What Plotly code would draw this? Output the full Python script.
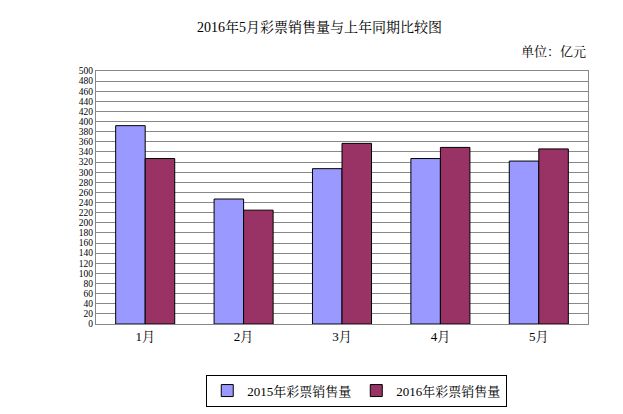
import plotly.graph_objects as go

categories = ["1月", "2月", "3月", "4月", "5月"]
sales_2015 = [392, 247, 307, 327, 322]
sales_2016 = [327, 225, 357, 349, 346]
y_ticks = list(range(0, 501, 20))

font = "Liberation Serif, Noto Serif CJK SC, Noto Sans CJK SC, serif"
fig = go.Figure()
fig.add_bar(x=categories, y=sales_2015, name="2015年彩票销售量",
            marker=dict(color="#9999FF", line=dict(color="black", width=1)))
fig.add_bar(x=categories, y=sales_2016, name="2016年彩票销售量",
            marker=dict(color="#993366", line=dict(color="black", width=1)))
fig.update_layout(
    width=623, height=414, paper_bgcolor="white", plot_bgcolor="white",
    font=dict(family=font, size=12, color="black"),
    margin=dict(l=88, r=43, t=63, b=98),
    bargap=0.4, bargroupgap=0,
    title=dict(text="2016年5月彩票销售量与上年同期比较图", x=0.5, y=0.965,
               xanchor="center", font=dict(size=14)),
    legend=dict(orientation="h", x=0.53, y=-0.2, xanchor="center", yanchor="top",
                bordercolor="black", borderwidth=1, font=dict(size=13)),
    showlegend=True,
)
fig.update_yaxes(range=[0, 500], tickvals=y_ticks, showgrid=True, gridcolor="#888888",
                 gridwidth=1, showline=True, linecolor="#888888", ticks="",
                 tickfont=dict(size=9.5), mirror=True)
fig.update_xaxes(showline=True, linecolor="#888888", mirror=True, tickfont=dict(size=13))
fig.add_annotation(text="单位：亿元", xref="paper", yref="paper", x=1.0, y=1.04,
                   xanchor="right", yanchor="bottom", showarrow=False, font=dict(size=13))
fig.write_html("out.html")
